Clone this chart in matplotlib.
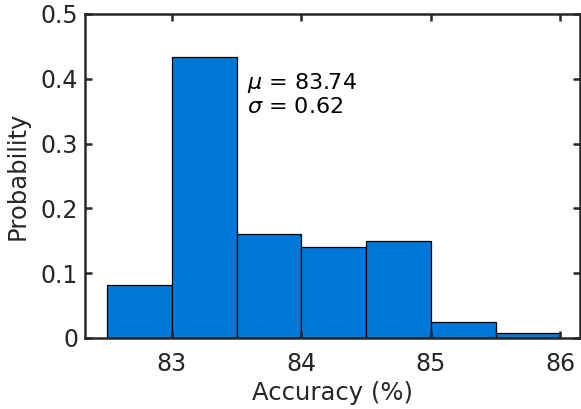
import matplotlib
matplotlib.use("Agg")
import matplotlib.pyplot as plt
import numpy as np

# bin edges and probabilities
bin_edges = [82.5, 83.0, 83.5, 84.0, 84.5, 85.0, 85.5, 86.0]
probability = [0.082, 0.434, 0.160, 0.141, 0.149, 0.024, 0.0075]
mu = 83.74
sigma = 0.62

xticks = [83, 84, 85, 86]
yticks = [0, 0.1, 0.2, 0.3, 0.4, 0.5]

plt.rcParams["font.family"] = ["DejaVu Sans"]
plt.rcParams["mathtext.fontset"] = "dejavusans"

fig = plt.figure(figsize=(5.81, 4.09), dpi=100)
ax = fig.add_axes([0.1463, 0.1736, 0.8517, 0.7922])

widths = np.diff(bin_edges)
ax.bar(bin_edges[:-1], probability, width=widths, align="edge",
       color="#0078D9", edgecolor="black", linewidth=0.9)

ax.set_xlim(82.33, 86.15)
ax.set_ylim(0, 0.5)
ax.set_xticks(xticks)
ax.set_yticks(yticks)
ax.set_yticklabels(["0", "0.1", "0.2", "0.3", "0.4", "0.5"])

ax.tick_params(direction="in", length=5, width=1.8, colors="#262626",
               labelsize=17, top=True, right=True)
ax.tick_params(axis="x", pad=10)
ax.tick_params(axis="y", pad=5)
for s in ax.spines.values():
    s.set_linewidth(1.8)
    s.set_color("#262626")

ax.set_xlabel("Accuracy (%)", fontsize=17.5, color="#262626", labelpad=4)
ax.set_ylabel("Probability", fontsize=17.5, color="#262626", labelpad=7.5)

ax.text(83.58, 0.393, r"$\mu$ = %.2f" % mu, fontsize=16, va="center", ha="left")
ax.text(83.58, 0.356, r"$\sigma$ = %.2f" % sigma, fontsize=16, va="center", ha="left")

plt.savefig("out.png", dpi=100)
